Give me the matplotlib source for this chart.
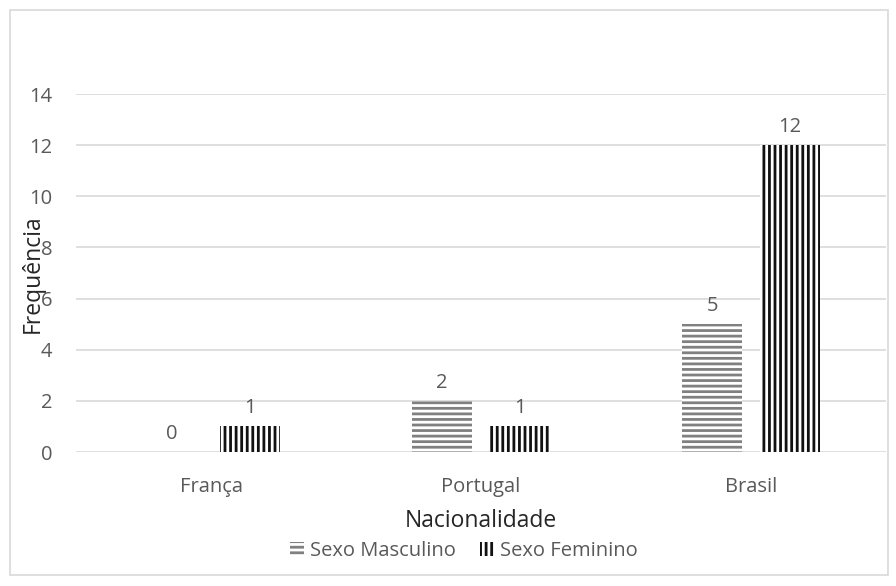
import matplotlib.pyplot as plt
import matplotlib.patches as mpatches
import numpy as np

# Dados
paises = ['França', 'Portugal', 'Brasil']
masculino = [0, 2, 5]
feminino = [1, 1, 12]
yticks = [0, 2, 4, 6, 8, 10, 12, 14]

plt.rcParams['font.family'] = ['Open Sans', 'DejaVu Sans']
plt.rcParams['hatch.linewidth'] = 2.0

TXT = '#595959'
GRID = '#d9d9d9'

fig = plt.figure(figsize=(8.96, 5.86), dpi=100)
# borda externa do gráfico
fig.patches.append(mpatches.Rectangle((10 / 896, 11 / 586), 878 / 896, 565 / 586,
                                      transform=fig.transFigure, fill=False,
                                      edgecolor=GRID, linewidth=1.2))

ax = fig.add_axes([76 / 896, 1 - 452 / 586, 810 / 896, 358 / 586])

x = np.arange(len(paises))
w = 0.222
off = 0.144

b1 = ax.bar(x - off, masculino, w, facecolor='white', edgecolor='#808080',
            hatch='---', linewidth=0, label='Sexo Masculino', zorder=2)
b2 = ax.bar(x + off, feminino, w, facecolor='white', edgecolor='#111111',
            hatch='|||', linewidth=0, label='Sexo Feminino', zorder=2)

for rects, vals in ((b1, masculino), (b2, feminino)):
    for r, v in zip(rects, vals):
        ax.annotate(str(v), (r.get_x() + r.get_width() / 2, v),
                    xytext=(0, 6), textcoords='offset points',
                    ha='center', va='bottom', fontsize=14.5, color=TXT)

ax.set_xlim(-0.5, 2.5)
ax.set_ylim(0, 14)
ax.set_yticks(yticks)
ax.set_xticks(x)
ax.set_xticklabels(paises)
ax.tick_params(axis='both', length=0, labelsize=14.5, colors=TXT)
ax.tick_params(axis='y', pad=17)
ax.tick_params(axis='x', pad=18)
ax.grid(axis='y', color=GRID, linewidth=1.2, zorder=0)
ax.set_axisbelow(True)
for s in ax.spines.values():
    s.set_visible(False)

fig.text(481 / 896, 1 - 521 / 586, 'Nacionalidade', ha='center', va='center',
         fontsize=16.5, color='#262626')
fig.text(33 / 896, 1 - 274 / 586, 'Frequência', ha='center', va='center',
         rotation=90, fontsize=16.5, color='#262626')

fig.legend(handles=[b1, b2], loc='center', bbox_to_anchor=(464 / 896, 1 - 551 / 586),
           ncol=2, frameon=False, fontsize=14.5, labelcolor=TXT,
           handlelength=0.7, handleheight=0.7, handletextpad=0.3, columnspacing=1.2)

fig.savefig('out.png', dpi=100, facecolor='white')
